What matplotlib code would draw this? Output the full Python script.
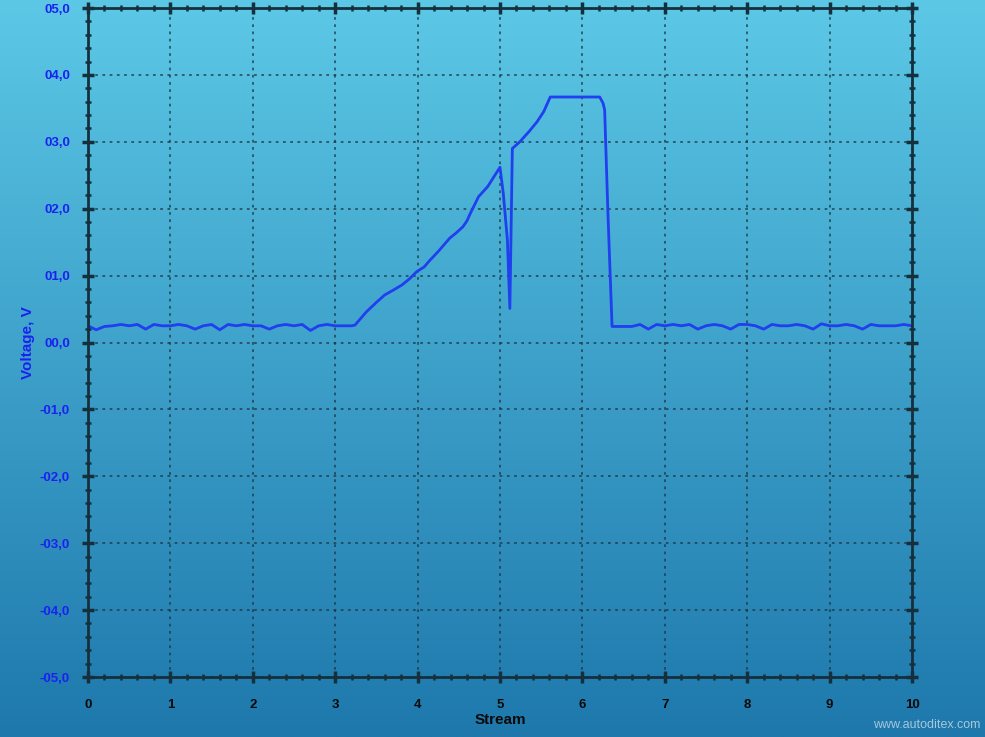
import matplotlib
matplotlib.use('agg')
import matplotlib.pyplot as plt
import numpy as np
from matplotlib.ticker import MultipleLocator, FuncFormatter

# baseline before the pulse (x = 0.0 .. 3.2, step 0.1)
base_left_x = [round(0.1 * i, 1) for i in range(33)]
base_left_y = [0.25, 0.19, 0.24, 0.25, 0.27, 0.25, 0.27, 0.20, 0.27, 0.25,
               0.25, 0.27, 0.25, 0.20, 0.25, 0.27, 0.19, 0.27, 0.25, 0.27,
               0.25, 0.25, 0.20, 0.25, 0.27, 0.25, 0.27, 0.18, 0.25, 0.27,
               0.25, 0.25, 0.25]

# the pulse itself
pulse_x = [3.24, 3.38, 3.50, 3.60, 3.70, 3.81, 3.90, 3.99, 4.08, 4.15,
           4.25, 4.39, 4.47, 4.55, 4.60, 4.64, 4.74, 4.85, 5.00, 5.04,
           5.09, 5.12, 5.15, 5.24, 5.35, 5.45, 5.53, 5.61, 6.21, 6.25,
           6.27, 6.31, 6.36]
pulse_y = [0.26, 0.46, 0.60, 0.71, 0.78, 0.86, 0.95, 1.06, 1.13, 1.23,
           1.36, 1.56, 1.64, 1.73, 1.82, 1.93, 2.18, 2.33, 2.62, 2.23,
           1.53, 0.51, 2.90, 3.00, 3.15, 3.30, 3.45, 3.67, 3.67, 3.58,
           3.48, 1.93, 0.24]

# baseline after the pulse (x = 6.4 .. 10.0)
base_right_x = [round(6.4 + 0.1 * i, 1) for i in range(37)]
base_right_y = [0.24, 0.24, 0.24, 0.27, 0.20, 0.27, 0.25, 0.27, 0.25, 0.27,
                0.20, 0.25, 0.27, 0.25, 0.20, 0.27, 0.27, 0.25, 0.20, 0.27,
                0.25, 0.25, 0.27, 0.25, 0.20, 0.28, 0.25, 0.25, 0.27, 0.25,
                0.20, 0.27, 0.25, 0.25, 0.25, 0.27, 0.25]

x = base_left_x + pulse_x + base_right_x
y = base_left_y + pulse_y + base_right_y

plt.rcParams['font.family'] = ['Liberation Sans', 'DejaVu Sans']

fig = plt.figure(figsize=(9.85, 7.37), dpi=100)

# gradient background
bg = fig.add_axes([0, 0, 1, 1], zorder=-10)
top = np.array([92, 200, 230]) / 255
bot = np.array([30, 120, 172]) / 255
t = np.linspace(0, 1, 256)[:, None]
grad = top * (1 - t) + bot * t
bg.imshow(grad[:, None, :].repeat(2, axis=1), aspect='auto', extent=[0, 1, 0, 1])
bg.axis('off')

ax = fig.add_axes([0.0893, 0.0814, 0.8366, 0.9077])
ax.set_facecolor('none')
ax.plot(x, y, color='#1f3ff0', lw=2)

ax.set_xlim(0, 10)
ax.set_ylim(-5, 5)
ax.xaxis.set_major_locator(MultipleLocator(1))
ax.xaxis.set_minor_locator(MultipleLocator(0.2))
ax.yaxis.set_major_locator(MultipleLocator(1))
ax.yaxis.set_minor_locator(MultipleLocator(0.2))


def yfmt(v, pos):
    s = '%04.1f' % abs(v)
    s = s.replace('.', ',')
    return ('-' if v < -0.01 else '') + s


ax.yaxis.set_major_formatter(FuncFormatter(yfmt))
ax.xaxis.set_major_formatter(FuncFormatter(lambda v, p: '%d' % v))

spine_col = '#15303c'
for s in ax.spines.values():
    s.set_color(spine_col)
    s.set_linewidth(2)

ax.tick_params(which='both', direction='inout', color=spine_col,
               top=True, right=True)
ax.tick_params(which='major', length=8, width=2.5)
ax.tick_params(which='minor', length=5, width=1.8)
ax.tick_params(axis='y', which='major', labelcolor='#1a22f0', labelsize=9.5, pad=9)
ax.tick_params(axis='x', which='major', labelcolor='#0a0a0a', labelsize=9.5, pad=12)
for lab in ax.get_xticklabels() + ax.get_yticklabels():
    lab.set_fontweight('bold')

ax.grid(which='major', color='#1c3440', linestyle=(0, (1.5, 2.5)), linewidth=1.3, alpha=0.75)

ax.set_xlabel('Stream', fontsize=11, fontweight='bold', color='#0a0a0a', labelpad=1)
ax.set_ylabel('Voltage, V', fontsize=11, fontweight='bold', color='#1a22f0', labelpad=3)

fig.text(0.995, 0.008, 'www.autoditex.com', ha='right', va='bottom',
         fontsize=9, color='#c8dce8', alpha=0.8)

fig.savefig('out.png', dpi=100)
